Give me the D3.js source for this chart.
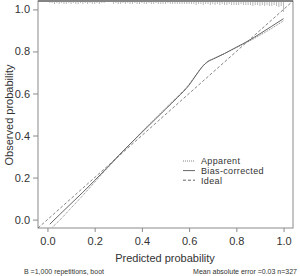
<!DOCTYPE html>
<html><head><meta charset="utf-8">
<script src="https://cdn.jsdelivr.net/npm/d3@7"></script>
<style>body{margin:0;background:#fff}svg{display:block}text{font-family:"Liberation Sans",Arial,sans-serif;fill:#333}</style>
</head><body><div id="c"></div>
<script>
const ticks = [0, 0.2, 0.4, 0.6, 0.8, 1.0];
const biasX = [0.01,0.05,0.1,0.15,0.2,0.25,0.3,0.35,0.4,0.45,0.5,0.55,0.6,0.63,0.66,0.68,0.7,0.75,0.8,0.85,0.9,0.95,1.0];
const biasY = [-0.022,0.022,0.076,0.13,0.186,0.244,0.303,0.36,0.415,0.47,0.525,0.58,0.64,0.688,0.732,0.752,0.763,0.79,0.82,0.85,0.884,0.92,0.956];
const appX = [0.022,0.05,0.1,0.15,0.2,0.25,0.3,0.35,0.4,0.45,0.5,0.55,0.6,0.63,0.66,0.68,0.7,0.75,0.8,0.85,0.9,0.95,1.0];
const appY = [-0.035,-0.005,0.055,0.115,0.178,0.24,0.3,0.358,0.418,0.474,0.53,0.585,0.644,0.69,0.734,0.754,0.764,0.79,0.818,0.846,0.877,0.91,0.946];
const rugX = [0.01,0.02,0.03,0.04,0.05,0.06,0.07,0.08,0.09,0.1,0.11,0.12,0.13,0.14,0.15,0.16,0.17,0.18,0.19,0.2,0.21,0.22,0.23,0.24,
  0.28,0.29,0.3,0.31,0.32,0.33,0.34,0.35,0.36,0.37,0.38,0.39,0.4,0.41,0.42,0.43,0.44,0.45,0.46,0.47,0.48,0.49,0.5,0.51,0.52,0.53,
  0.54,0.55,0.56,0.57,0.58,0.59,0.6,0.61,0.62,0.63,0.64,0.65,0.66,0.67,0.68,0.69,0.7,0.71,0.72,0.73,0.74,0.75,0.76,0.77,0.78,0.79,
  0.8,0.81,0.82,0.83,0.84,0.85,0.86,0.87,0.88,0.89,0.9,0.91,0.92,0.93,0.94,0.95,0.96,0.97,0.98,0.99,1.0];
const rugH = [2,2,3,2,3,2,3,3,2,3,2,3,3,2,3,2,3,2,3,3,2,3,2,2,
  3,2,3,3,2,3,2,3,3,2,3,3,2,3,3,2,3,3,2,3,3,3,3,2,3,3,
  3,3,3,3,3,3,3,3,3,4,3,3,4,3,3,4,3,4,3,4,3,4,4,3,4,4,
  4,4,3,4,4,4,4,5,4,4,5,4,5,4,5,5,4,5,6,5,11];
const legendLabels = ["Apparent","Bias-corrected","Ideal"];

const W=300,H=276;
const svg=d3.select("#c").append("svg").attr("width",W).attr("height",H);
const x=d3.scaleLinear().domain([-0.04,1.04]).range([38,293]);
const y=d3.scaleLinear().domain([-0.04,1.04]).range([228,1]);
const grey="#8a8a8a";

svg.append("rect").attr("x",38).attr("y",1).attr("width",255).attr("height",227)
  .attr("fill","none").attr("stroke",grey).attr("stroke-width",1);
svg.append("line").attr("x1",38).attr("x2",293).attr("y1",1).attr("y2",1).attr("stroke","#444").attr("stroke-width",1.2);

const xa=svg.append("g").attr("transform","translate(0,228)")
  .call(d3.axisBottom(x).tickValues(ticks).tickFormat(d3.format(".1f")).tickSize(4).tickPadding(5));
const ya=svg.append("g").attr("transform","translate(38,0)")
  .call(d3.axisLeft(y).tickValues(ticks).tickFormat(d3.format(".1f")).tickSize(5).tickPadding(3));
[xa,ya].forEach(a=>{a.select(".domain").remove();a.selectAll("line").attr("stroke",grey);
  a.selectAll("text").style("font-size","11px").style("font-family","Liberation Sans, Arial").attr("fill","#333");});

svg.append("g").selectAll("line").data(rugX).join("line")
  .attr("x1",d=>x(d)).attr("x2",d=>x(d)).attr("y1",1).attr("y2",(d,i)=>1+rugH[i])
  .attr("stroke","#888").attr("stroke-width",0.6);

svg.append("line").attr("x1",x(-0.04)).attr("y1",y(-0.04)).attr("x2",x(1.04)).attr("y2",y(1.04))
  .attr("stroke","#666").attr("stroke-width",0.8).attr("stroke-dasharray","3,2");

const line=d3.line().curve(d3.curveMonotoneX);
svg.append("path").attr("d",line(appX.map((d,i)=>[x(d),y(appY[i])])))
  .attr("fill","none").attr("stroke","#777").attr("stroke-width",0.9).attr("stroke-dasharray","1,1");
svg.append("path").attr("d",line(biasX.map((d,i)=>[x(d),y(biasY[i])])))
  .attr("fill","none").attr("stroke","#555").attr("stroke-width",0.9);

const dash=["1,1",null,"3,2"];
const lg=svg.append("g");
legendLabels.forEach((t,i)=>{
  const yy=161+i*9.6;
  lg.append("line").attr("x1",183).attr("x2",195).attr("y1",yy).attr("y2",yy)
    .attr("stroke",i==0?"#777":"#555").attr("stroke-width",0.9).attr("stroke-dasharray",dash[i]);
  lg.append("text").attr("x",201).attr("y",yy+3.3).text(t).style("font-size","9px").style("letter-spacing","0.35px");
});

svg.append("text").attr("x",165).attr("y",262).attr("text-anchor","middle").text("Predicted probability").style("font-size","11px");
svg.append("text").attr("transform","translate(13,115) rotate(-90)").attr("text-anchor","middle").text("Observed probability").style("font-size","11px");
svg.append("text").attr("x",24).attr("y",274).text("B =1,000 repetitions, boot").style("font-size","7px");
svg.append("text").attr("x",297).attr("y",274).attr("text-anchor","end").text("Mean absolute error =0.03 n=327").style("font-size","7px");
</script></body></html>
